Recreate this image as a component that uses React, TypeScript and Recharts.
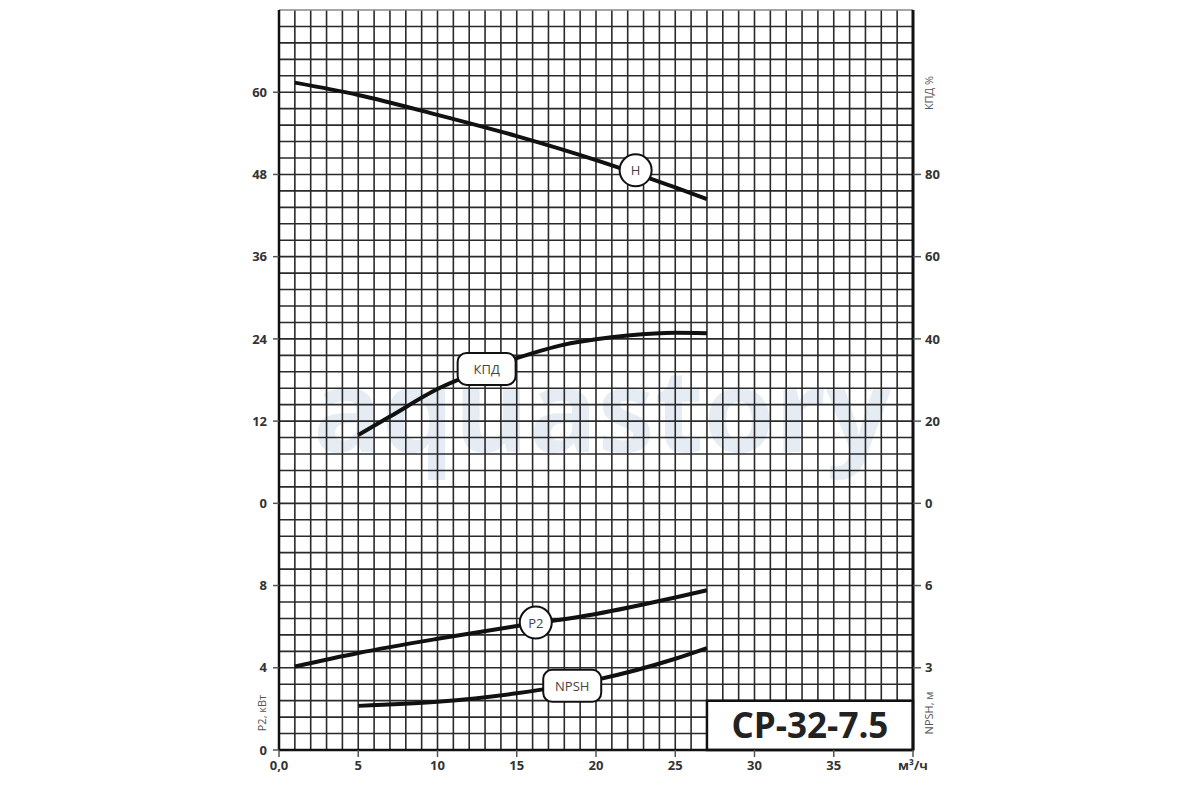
import React from 'react';
import { LineChart, Line, XAxis, YAxis, ReferenceLine, ReferenceDot, ReferenceArea } from 'recharts';

// curves
const flowH = [1, 5, 10, 15, 20, 25, 27];
const headH = [61.4, 59.6, 56.7, 53.6, 50.1, 46.1, 44.4];
const flowEff = [5, 7, 10, 13, 15, 18, 20, 22, 25, 27];
const effValues = [16.6, 21.1, 27.8, 32.6, 35.3, 38.6, 39.9, 40.8, 41.5, 41.4];
const flowP2 = [1, 5, 10, 15, 20, 25, 27];
const powerP2 = [4.06, 4.72, 5.41, 6.03, 6.62, 7.42, 7.77];
const flowNpsh = [5, 10, 15, 20, 25, 27];
const npshValues = [1.61, 1.76, 2.07, 2.56, 3.33, 3.72];

// curve tags
const tagNames = ['H', 'КПД', 'P2', 'NPSH'];
const tagAxes = ['h', 'eff', 'p2', 'npsh'];
const tagX = [22.5, 13.1, 16.2, 18.5];
const tagY = [48.6, 32.7, 6.2, 2.34];
const tagRound = [true, false, true, false];

// axes
const xTicks = [0, 5, 10, 15, 20, 25, 30, 35, 40];
const xTickLabels = ['0,0', '5', '10', '15', '20', '25', '30', '35', 'м³/ч'];
const leftTicks = [-36, -24, -12, 0, 12, 24, 36, 48, 60];
const leftTickLabels = ['0', '4', '8', '0', '12', '24', '36', '48', '60'];
const rightTicks = [-40, -20, 0, 20, 40, 60, 80];
const rightTickLabels = ['3', '6', '0', '20', '40', '60', '80'];

// graph paper: one line per m³/h, 45 rows
const gridX = [0, 1, 2, 3, 4, 5, 6, 7, 8, 9, 10, 11, 12, 13, 14, 15, 16, 17, 18, 19, 20, 21, 22, 23, 24, 25, 26, 27, 28, 29, 30, 31, 32, 33, 34, 35, 36, 37, 38, 39, 40];
const gridY = [0, 1, 2, 3, 4, 5, 6, 7, 8, 9, 10, 11, 12, 13, 14, 15, 16, 17, 18, 19, 20, 21, 22, 23, 24, 25, 26, 27, 28, 29, 30, 31, 32, 33, 34, 35, 36, 37, 38, 39, 40, 41, 42, 43, 44, 45];

const toRows = (xs: number[], ys: number[]) => xs.map((x, i) => ({ x, v: ys[i] }));

const FONT = '"Open Sans", "DejaVu Sans", sans-serif';
const tickStyle = { fill: '#333', fontSize: 13, fontWeight: 700, fontFamily: FONT };
const gridColor = '#2a2a2a';

const makeTag = (name: string, round: boolean) => (props: any) => {
  const { cx, cy } = props;
  if (cx == null || cy == null) return <g />;
  return (
    <g>
      {round ? (
        <circle cx={cx} cy={cy} r={16} fill="#fff" stroke="#111" strokeWidth={2} />
      ) : (
        <rect x={cx - 29} y={cy - 16} width={58} height={32} rx={9} fill="#fff" stroke="#111" strokeWidth={2} />
      )}
      <text x={cx} y={cy + 5} textAnchor="middle" fontSize={13} fill="#444" fontFamily={FONT}>
        {name}
      </text>
    </g>
  );
};

export default function App() {
  const hData = toRows(flowH, headH);
  const effData = toRows(flowEff, effValues);
  const p2Data = toRows(flowP2, powerP2);
  const npshData = toRows(flowNpsh, npshValues);

  return (
    <div style={{ position: 'absolute', left: 0, top: 0, width: 1200, height: 800, background: '#fff', fontFamily: FONT }}>
      <svg width={1200} height={800} style={{ position: 'absolute', left: 0, top: 0 }}>
        <text x={602} y={452} textAnchor="middle" fontSize={114} fontWeight={700} fill="#e5ecf4" fontFamily={FONT}>
          aquastory
        </text>
      </svg>
      <div style={{ position: 'absolute', left: 0, top: 0 }}>
        <LineChart width={1200} height={800} margin={{ top: 10, right: 247, left: 239, bottom: 0 }}>
          <XAxis
            type="number"
            dataKey="x"
            domain={[0, 40]}
            ticks={xTicks}
            allowDataOverflow
            height={50}
            tickSize={7}
            tickMargin={4}
            tick={tickStyle}
            tickFormatter={(v: number) => xTickLabels[xTicks.indexOf(v)] ?? ''}
            axisLine={{ stroke: '#111', strokeWidth: 2.5 }}
            tickLine={{ stroke: '#555', strokeWidth: 1.5 }}
          />
          <YAxis
            yAxisId="h"
            orientation="left"
            width={40}
            domain={[-36, 72]}
            ticks={leftTicks}
            allowDataOverflow
            tickSize={6}
            tickMargin={6}
            tick={tickStyle}
            tickFormatter={(v: number) => leftTickLabels[leftTicks.indexOf(v)] ?? ''}
            axisLine={{ stroke: '#111', strokeWidth: 2.5 }}
            tickLine={{ stroke: '#555', strokeWidth: 1.5 }}
          />
          <YAxis
            yAxisId="eff"
            orientation="right"
            width={40}
            domain={[-60, 120]}
            ticks={rightTicks}
            allowDataOverflow
            tickSize={8}
            tickMargin={4}
            tick={tickStyle}
            tickFormatter={(v: number) => rightTickLabels[rightTicks.indexOf(v)] ?? ''}
            axisLine={{ stroke: '#111', strokeWidth: 3 }}
            tickLine={{ stroke: '#555', strokeWidth: 1.5 }}
          />
          <YAxis yAxisId="p2" hide width={0} orientation="right" domain={[0, 36]} allowDataOverflow />
          <YAxis yAxisId="npsh" hide width={0} orientation="right" domain={[0, 27]} allowDataOverflow />
          <YAxis yAxisId="grid" hide width={0} orientation="right" domain={[0, 45]} allowDataOverflow />

          {gridX.map((g) => (
            <ReferenceLine key={`gx${g}`} x={g} yAxisId="grid" stroke={gridColor} strokeWidth={1.6} ifOverflow="visible" zIndex={-100} />
          ))}
          {gridY.map((g) => (
            <ReferenceLine
              key={`gy${g}`}
              y={g}
              yAxisId="grid"
              stroke={g === 45 ? '#888' : gridColor}
              strokeWidth={1.6}
              ifOverflow="visible"
              zIndex={-100}
            />
          ))}

          <Line data={hData} dataKey="v" yAxisId="h" type="monotone" stroke="#111" strokeWidth={4} dot={false} activeDot={false} isAnimationActive={false} />
          <Line data={effData} dataKey="v" yAxisId="eff" type="monotone" stroke="#111" strokeWidth={4} dot={false} activeDot={false} isAnimationActive={false} />
          <Line data={p2Data} dataKey="v" yAxisId="p2" type="monotone" stroke="#111" strokeWidth={4} dot={false} activeDot={false} isAnimationActive={false} />
          <Line data={npshData} dataKey="v" yAxisId="npsh" type="monotone" stroke="#111" strokeWidth={4} dot={false} activeDot={false} isAnimationActive={false} />

          {tagNames.map((name, i) => (
            <ReferenceDot
              key={name}
              x={tagX[i]}
              y={tagY[i]}
              yAxisId={tagAxes[i]}
              ifOverflow="visible"
              zIndex={700}
              shape={makeTag(name, tagRound[i])}
            />
          ))}

          <ReferenceArea
            x1={27}
            x2={40}
            y1={0}
            y2={3}
            yAxisId="grid"
            fill="#fff"
            fillOpacity={1}
            stroke="#111"
            strokeWidth={2.5}
            zIndex={450}
            label={{ value: 'CP-32-7.5', position: 'center', fontSize: 35, fontWeight: 700, fill: '#222', fontFamily: FONT }}
          />
        </LineChart>
      </div>
      <svg width={1200} height={800} style={{ position: 'absolute', left: 0, top: 0, pointerEvents: 'none' }}>
        <text transform="translate(933 93) rotate(-90)" textAnchor="middle" fontSize={11} fill="#555" fontFamily={FONT}>
          КПД %
        </text>
        <text transform="translate(933 713) rotate(-90)" textAnchor="middle" fontSize={11} fill="#555" fontFamily={FONT}>
          NPSH, м
        </text>
        <text transform="translate(266 713) rotate(-90)" textAnchor="middle" fontSize={11} fill="#555" fontFamily={FONT}>
          P2, кВт
        </text>
      </svg>
    </div>
  );
}
